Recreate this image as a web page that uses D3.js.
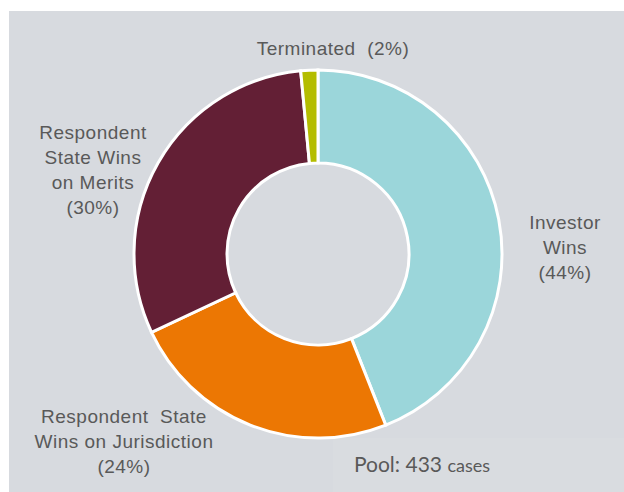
<!DOCTYPE html>
<html>
<head>
<meta charset="utf-8">
<script src="https://cdn.jsdelivr.net/npm/d3@7"></script>
<style>
  body { margin: 0; background: #fff; }
  svg text { font-family: "Liberation Sans", Arial, sans-serif; fill: #595959; }
</style>
</head>
<body>
<div id="chart"></div>
<script>
// outcome shares of the 433 cases, clockwise from 12 o'clock
const outcomes = ["Investor Wins", "Respondent State Wins on Jurisdiction", "Respondent State Wins on Merits", "Terminated"];
const shares = [44, 24, 30.5, 1.5];
const colors = ["#9bd6da", "#ec7703", "#631f35", "#b4bd00"];
const labelLines = [
  ["Investor", "Wins", "(44%)"],
  ["Respondent  State", "Wins on Jurisdiction", "(24%)"],
  ["Respondent", "State Wins", "on Merits", "(30%)"],
  ["Terminated  (2%)"]
];
const poolText = ["Pool: 433", "cases"];

const width = 624, height = 492;
const cx = 318, cy = 254, outerR = 184, innerR = 91;

const svg = d3.select('#chart')
  .append('svg')
  .attr('width', width)
  .attr('height', height);

// grey panel
svg.append('rect')
  .attr('x', 9)
  .attr('y', 11)
  .attr('width', width - 9)
  .attr('height', height - 11)
  .attr('fill', '#d7dadf');

// pool note box
svg.append('rect')
  .attr('x', 333)
  .attr('y', 438)
  .attr('width', width - 333)
  .attr('height', height - 438)
  .attr('fill', '#d9dce0');

const pie = d3.pie().sort(null).value(d => d.value);
const arc = d3.arc().innerRadius(innerR).outerRadius(outerR);

const data = outcomes.map((name, i) => ({ name: name, value: shares[i], color: colors[i] }));

svg.append('g')
  .attr('transform', `translate(${cx},${cy})`)
  .selectAll('path')
  .data(pie(data))
  .enter()
  .append('path')
  .attr('d', arc)
  .attr('fill', d => d.data.color)
  .attr('stroke', '#fff')
  .attr('stroke-width', 3);

// label anchors (centre x, first line baseline)
const labelPos = [
  { x: 565, y: 229 },
  { x: 124, y: 423 },
  { x: 93, y: 139 },
  { x: 333, y: 55 }
];
const lineH = 25;

labelLines.forEach((lines, i) => {
  const t = svg.append('text')
    .attr('text-anchor', 'middle')
    .attr('font-size', 19)
    .attr('letter-spacing', 0.5)
    .style('white-space', 'pre');
  lines.forEach((line, j) => {
    t.append('tspan')
      .attr('x', labelPos[i].x)
      .attr('y', labelPos[i].y + j * lineH)
      .text(line);
  });
});

const pool = svg.append('text')
  .attr('x', 354)
  .attr('y', 472)
  .style('font-family', 'Lato, sans-serif');
pool.append('tspan').attr('font-size', 21).text(poolText[0] + ' ');
pool.append('tspan').attr('font-size', 18).text(poolText[1]);
</script>
</body>
</html>
